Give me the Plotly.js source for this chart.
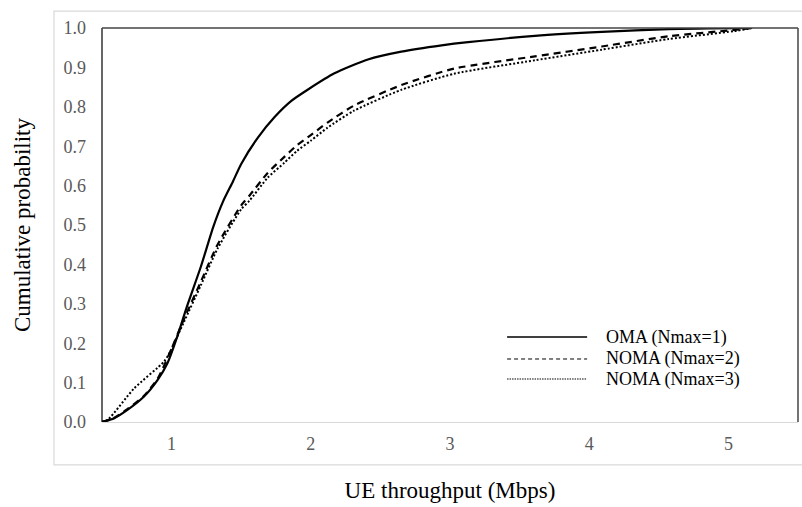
<!DOCTYPE html>
<html>
<head>
<meta charset="utf-8">
<script src="https://cdn.plot.ly/plotly-3.0.1.min.js"></script>
<style>html,body{margin:0;padding:0;background:#fff;}#chart{width:802px;height:507px;}</style>
</head>
<body>
<div id="chart"></div>
<script>
// Series names
const seriesNames = ["OMA (Nmax=1)", "NOMA (Nmax=2)", "NOMA (Nmax=3)"];

// OMA (Nmax=1)
const omaX = [0.5, 0.585, 0.68, 0.8, 0.9, 0.97, 1.04, 1.11, 1.21, 1.3, 1.37, 1.44, 1.5, 1.62, 1.74, 1.86, 1.98, 2.17, 2.41, 2.65, 2.94, 3.13, 3.61, 4.09, 4.57, 5.17];
const omaY = [0, 0.009, 0.03, 0.064, 0.107, 0.149, 0.216, 0.293, 0.394, 0.496, 0.56, 0.61, 0.655, 0.722, 0.774, 0.815, 0.844, 0.885, 0.92, 0.94, 0.956, 0.964, 0.98, 0.99, 0.997, 1.0];

// NOMA (Nmax=2)
const noma2X = [0.5, 0.585, 0.68, 0.8, 0.9, 0.98, 1.09, 1.21, 1.33, 1.5, 1.56, 1.69, 1.81, 1.9, 2.0, 2.12, 2.31, 2.65, 3.03, 3.61, 4.09, 4.57, 5.04, 5.17];
const noma2Y = [0, 0.01, 0.032, 0.066, 0.11, 0.17, 0.262, 0.356, 0.45, 0.55, 0.575, 0.632, 0.673, 0.702, 0.728, 0.76, 0.803, 0.855, 0.897, 0.928, 0.953, 0.979, 0.995, 1.0];

// NOMA (Nmax=3)
const noma3X = [0.5, 0.54, 0.73, 0.945, 0.98, 1.09, 1.21, 1.33, 1.5, 1.56, 1.69, 1.81, 1.9, 2.0, 2.12, 2.31, 2.65, 3.03, 3.61, 4.09, 4.57, 5.04, 5.17];
const noma3Y = [0, 0.005, 0.085, 0.153, 0.172, 0.255, 0.347, 0.44, 0.54, 0.562, 0.62, 0.658, 0.688, 0.714, 0.747, 0.79, 0.843, 0.884, 0.918, 0.945, 0.972, 0.992, 1.0];

// Axis ticks
const xTicks = [1, 2, 3, 4, 5];
const yTicks = [0, 0.1, 0.2, 0.3, 0.4, 0.5, 0.6, 0.7, 0.8, 0.9, 1.0];

const serif = "Liberation Serif, Times New Roman, serif";
const lineStyles = [
  {plotDash: "solid", legendDash: "solid", width: 2.2, legendWidth: 1.6},
  {plotDash: "7px,5px", legendDash: "4px,3px", width: 2.2, legendWidth: 1},
  {plotDash: "2px,2px", legendDash: "1.5px,1px", width: 2, legendWidth: 1}
];

const xs = [omaX, noma2X, noma3X];
const ys = [omaY, noma2Y, noma3Y];

const traces = xs.map((x, i) => ({
  x: x, y: ys[i], name: seriesNames[i], mode: "lines", showlegend: false,
  line: {color: "#000", width: lineStyles[i].width, dash: lineStyles[i].plotDash, shape: "spline", smoothing: 0.6}
}));

// Legend drawn in paper coordinates
const legendRowY = [0.2157, 0.1599, 0.1091];
const legendShapes = seriesNames.map((n, i) => ({
  type: "line", xref: "paper", yref: "paper", x0: 0.582, x1: 0.697, y0: legendRowY[i], y1: legendRowY[i],
  line: {color: "#000", width: lineStyles[i].legendWidth, dash: lineStyles[i].legendDash}
}));
const legendAnnotations = seriesNames.map((n, i) => ({
  text: n, xref: "paper", yref: "paper", x: 0.7213, y: legendRowY[i], xanchor: "left", yanchor: "middle",
  showarrow: false, font: {family: serif, size: 18, color: "#000"}
}));

const layout = {
  width: 802, height: 507,
  margin: {l: 102, r: 4, t: 28, b: 85},
  paper_bgcolor: "#fff", plot_bgcolor: "#fff",
  showlegend: false,
  xaxis: {
    range: [0.5, 5.5], tickvals: xTicks, ticktext: xTicks.map(String),
    showgrid: false, zeroline: false, showline: true, linecolor: "#d9d9d9", linewidth: 1,
    ticks: "", ticklabelstandoff: 5,
    tickfont: {family: serif, size: 18, color: "#595959"},
    title: {text: "UE throughput (Mbps)", font: {family: serif, size: 23, color: "#000"}, standoff: 29},
    fixedrange: true
  },
  yaxis: {
    range: [0, 1.0], tickvals: yTicks, ticktext: yTicks.map(v => v.toFixed(1)),
    showgrid: false, zeroline: false, showline: false,
    ticks: "", ticklabelstandoff: 15,
    tickfont: {family: serif, size: 18, color: "#595959"},
    title: {text: "Cumulative probability", font: {family: serif, size: 23, color: "#000"}, standoff: 26},
    fixedrange: true
  },
  annotations: legendAnnotations,
  shapes: [
    // outer chart-area border
    {type: "rect", xref: "paper", yref: "paper", x0: -0.069, x1: 1.01, y0: -0.109, y1: 1.043,
     line: {color: "#d9d9d9", width: 1.2}, layer: "below"},
    // plot frame: left, top, right
    {type: "line", xref: "paper", yref: "paper", x0: 0, x1: 0, y0: 0, y1: 1, line: {color: "#000", width: 1.2}},
    {type: "line", xref: "paper", yref: "paper", x0: 0, x1: 1, y0: 1, y1: 1, line: {color: "#444", width: 1.5}},
    {type: "line", xref: "paper", yref: "paper", x0: 1, x1: 1, y0: 0, y1: 1, line: {color: "#444", width: 1.5}}
  ].concat(legendShapes)
};

Plotly.newPlot("chart", traces, layout, {displayModeBar: false, staticPlot: true});
</script>
</body>
</html>
